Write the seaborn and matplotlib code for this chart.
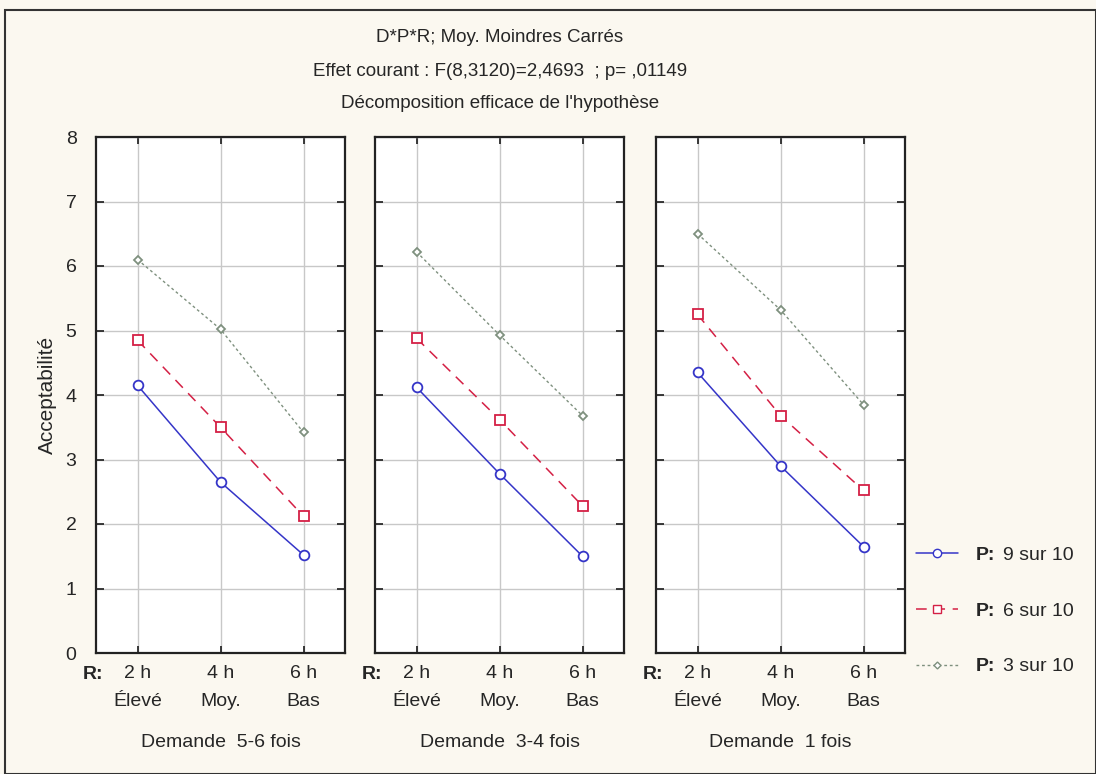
import matplotlib
matplotlib.use("Agg")
import matplotlib.pyplot as plt
import seaborn as sns
import pandas as pd
from matplotlib.lines import Line2D
from matplotlib.patches import Rectangle

sns.set_theme(style="white")
plt.rcParams['font.family'] = ['Liberation Sans Narrow', 'Liberation Sans', 'DejaVu Sans']

# ---- data ----
panels = ["Demande  5-6 fois", "Demande  3-4 fois", "Demande  1 fois"]
r_labels = ["2 h\nÉlevé", "4 h\nMoy.", "6 h\nBas"]
series = ["9 sur 10", "6 sur 10", "3 sur 10"]
p9 = [[4.15, 2.65, 1.52], [4.12, 2.78, 1.50], [4.35, 2.90, 1.65]]
p6 = [[4.85, 3.50, 2.12], [4.88, 3.62, 2.28], [5.25, 3.68, 2.52]]
p3 = [[6.10, 5.02, 3.42], [6.22, 4.93, 3.68], [6.50, 5.32, 3.85]]
yticks = [0, 1, 2, 3, 4, 5, 6, 7, 8]

rows = []
for pi, pname in enumerate(panels):
    for sname, vals in zip(series, [p9, p6, p3]):
        for ri in range(3):
            rows.append(dict(panel=pname, P=sname, R=ri, val=vals[pi][ri]))
df = pd.DataFrame(rows)

colors = {"9 sur 10": "#3535C8", "6 sur 10": "#D42045", "3 sur 10": "#7E907E"}
styles = {"9 sur 10": dict(ls="-", marker="o", ms=7, lw=1.1),
          "6 sur 10": dict(ls=(0, (7, 5)), marker="s", ms=7, lw=1.1),
          "3 sur 10": dict(ls=(0, (2, 2)), marker="D", ms=4.5, lw=1.0)}

bg = "#FBF8F0"
fig = plt.figure(figsize=(10.96, 7.74), dpi=100, facecolor=bg)
fig.patches.append(Rectangle((0.005, 0.0), 0.995, 0.987, transform=fig.transFigure,
                             fill=False, edgecolor="#333333", lw=1.5))

W = 1096; H = 774
lefts = [96, 375, 656]
pw = 249
bottom_px, top_px = 653, 137
axes = []
for i, pname in enumerate(panels):
    ax = fig.add_axes([lefts[i] / W, 1 - bottom_px / H, pw / W, (bottom_px - top_px) / H])
    ax.set_facecolor("white")
    sub = df[df.panel == pname]
    for s in series:
        st = styles[s]
        sns.lineplot(data=sub[sub.P == s], x="R", y="val", ax=ax, color=colors[s],
                     linestyle=st["ls"], lw=st["lw"], marker=st["marker"],
                     markersize=st["ms"], markerfacecolor="white",
                     markeredgecolor=colors[s], markeredgewidth=1.3, legend=False)
    ax.set_xlim(-0.5, 2.5)
    ax.set_ylim(0, 8)
    ax.set_yticks(yticks)
    ax.set_xticks([0, 1, 2])
    ax.set_xticklabels(r_labels, fontsize=14, linespacing=1.8)
    ax.grid(True, color="#C8C8C8", lw=1.0)
    ax.set_axisbelow(True)
    for sp in ax.spines.values():
        sp.set_color("#222222")
        sp.set_linewidth(1.6)
    ax.tick_params(axis="y", direction="in", length=6, left=True, right=True,
                   labelleft=(i == 0), labelsize=14, color="#222222", pad=14)
    ax.tick_params(axis="x", direction="in", length=5, bottom=True, top=True,
                   labelsize=14, pad=9, color="#222222")
    ax.set_xlabel(pname, fontsize=14, labelpad=17)
    ax.set_ylabel("Acceptabilité" if i == 0 else "", fontsize=15, labelpad=6)
    ax.text(-0.54, -0.33, "R:", transform=ax.transData, fontsize=14, fontweight="bold",
            ha="center", va="center", clip_on=False)
    axes.append(ax)

fig.text(500 / W, 1 - 38 / H, "D*P*R; Moy. Moindres Carrés", ha="center", va="center", fontsize=13.5)
fig.text(500 / W, 1 - 72 / H, "Effet courant : F(8,3120)=2,4693  ; p= ,01149", ha="center", va="center", fontsize=13.5)
fig.text(500 / W, 1 - 103 / H, "Décomposition efficace de l'hypothèse", ha="center", va="center", fontsize=13.5)

handles = []
for s in series:
    st = styles[s]
    handles.append(Line2D([], [], color=colors[s], linestyle=st["ls"], lw=st["lw"],
                          marker=st["marker"], markersize=st["ms"] - 1,
                          markerfacecolor="white", markeredgecolor=colors[s]))
leg = fig.legend(handles, series, loc="center left", bbox_to_anchor=(898 / W, 1 - 611 / H),
                 frameon=False, fontsize=14, handlelength=2.2, labelspacing=1.95,
                 handletextpad=2.3)

fig.canvas.draw()
inv = fig.transFigure.inverted()
for t in leg.get_texts():
    bb = t.get_window_extent()
    x0, y0 = inv.transform((bb.x0 - 8, (bb.y0 + bb.y1) / 2))
    fig.text(x0, y0, "P:", ha="right", va="center", fontsize=14, fontweight="bold")

fig.savefig("out.png", dpi=100, facecolor=bg)
